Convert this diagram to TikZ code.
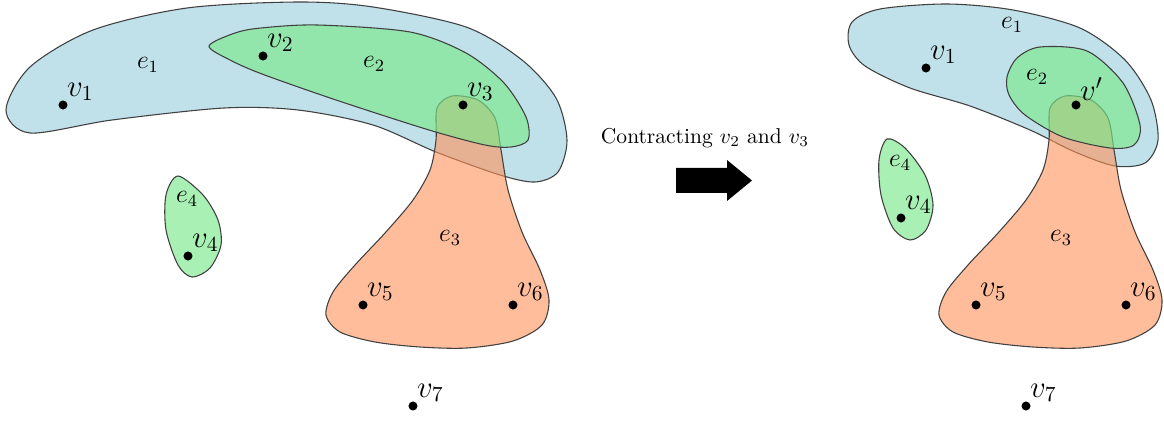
\documentclass[tikz,border=0pt]{standalone}
\usetikzlibrary{positioning}
\definecolor{hblue}{RGB}{192,225,234}
\definecolor{hgreen}{RGB}{122,232,138}
\definecolor{horange}{RGB}{255,145,88}

\begin{document}
\begin{tikzpicture}[x=0.465pt, y=-0.465pt, line width=0.5pt,
  dot/.style={circle, fill=black, inner sep=0pt, minimum size=4.2pt},
  vlab/.style={font=\Large, inner sep=0pt},
  elab/.style={font=\large, inner sep=0pt},
  blob/.style={draw=black!75, line join=round}]
\useasboundingbox (0,0) rectangle (1164,421);

% e1 (before / after)
\draw[blob, fill=hblue] plot[smooth cycle] coordinates {(6,110) (30,67) (93,30) (187,8) (298,2) (373,7) (466,27) (522,60) (556,98) (567,140) (558,172) (535,182) (500,175) (436,152) (373,125) (298,110) (224,108) (112,120) (30,133)};
\draw[blob, fill=hblue] plot[smooth cycle] coordinates {(852,22) (880,9) (947,4) (1013,10) (1080,28) (1125,60) (1151,100) (1158,140) (1145,163) (1115,166) (1075,152) (1030,130) (970,106) (910,88) (865,66) (849,45)};

% e3 is the same on both sides
\foreach \dx in {0,613}
  \draw[blob, fill=horange, fill opacity=0.6, shift={(\dx,0)}] plot[smooth cycle] coordinates {(437,108) (452,96) (478,100) (495,118) (501,150) (508,190) (522,232) (540,270) (549,300) (542,325) (513,341) (467,348) (420,347) (375,342) (340,332) (326,315) (333,292) (355,265) (385,233) (413,200) (430,170) (436,140)};

% e2
\draw[blob, fill=hgreen, fill opacity=0.65] plot[smooth cycle] coordinates {(209,46) (235,33) (261,28) (317,25) (410,32) (466,53) (504,83) (526,117) (528,140) (511,147) (485,145) (429,130) (336,100) (262,74) (230,60)};
\draw[blob, fill=hgreen, fill opacity=0.65] plot[smooth cycle] coordinates {(1007,77) (1017,58) (1040,47) (1087,51) (1123,83) (1140,125) (1134,145) (1110,148) (1063,137) (1025,115) (1009,95)};

% e4
\draw[blob, fill=hgreen, fill opacity=0.65] plot[smooth cycle] coordinates {(178,176) (166,195) (166,230) (178,265) (192,277) (210,268) (221,245) (218,220) (203,195)};
\draw[blob, fill=hgreen, fill opacity=0.65] plot[smooth cycle] coordinates {(887,139) (879,160) (881,195) (893,228) (910,240) (926,230) (933,205) (925,175) (905,148)};

% vertices
\foreach \n/\p/\t in {a1/{63,105}/v_1, a2/{263,56}/v_2, a3/{463,105}/v_3, a4/{188,256}/v_4,
    a5/{363,305}/v_5, a6/{513,305}/v_6, a7/{413,406}/v_7,
    b1/{926,68}/v_1, b2/{1076,105}/v', b4/{901,218}/v_4,
    b5/{976,305}/v_5, b6/{1126,305}/v_6, b7/{1026,406}/v_7}{
  \node[dot] (\n) at (\p) {};
  \node[vlab, above right=0pt of \n] (\n-t) {$\t$};
}

% edge names
\node[elab] (ea1) at (148,65) {$e_1$};
\node[elab] (ea2) at (374,64) {$e_2$};
\node[elab] (ea3) at (450,238) {$e_3$};
\node[elab] (ea4) at (187,199) {$e_4$};
\node[elab] (eb1) at (1012,25) {$e_1$};
\node[elab] (eb2) at (1037,77) {$e_2$};
\node[elab] (eb3) at (1061,238) {$e_3$};
\node[elab] (eb4) at (900,163) {$e_4$};

% contraction arrow
\node (txt) at (705,138) {Contracting $v_2$ and $v_3$};
\fill (676,168) -- (727,168) -- (727,160) -- (752,180.5) -- (727,201) -- (727,193) -- (676,193) -- cycle;
\end{tikzpicture}
\end{document}
